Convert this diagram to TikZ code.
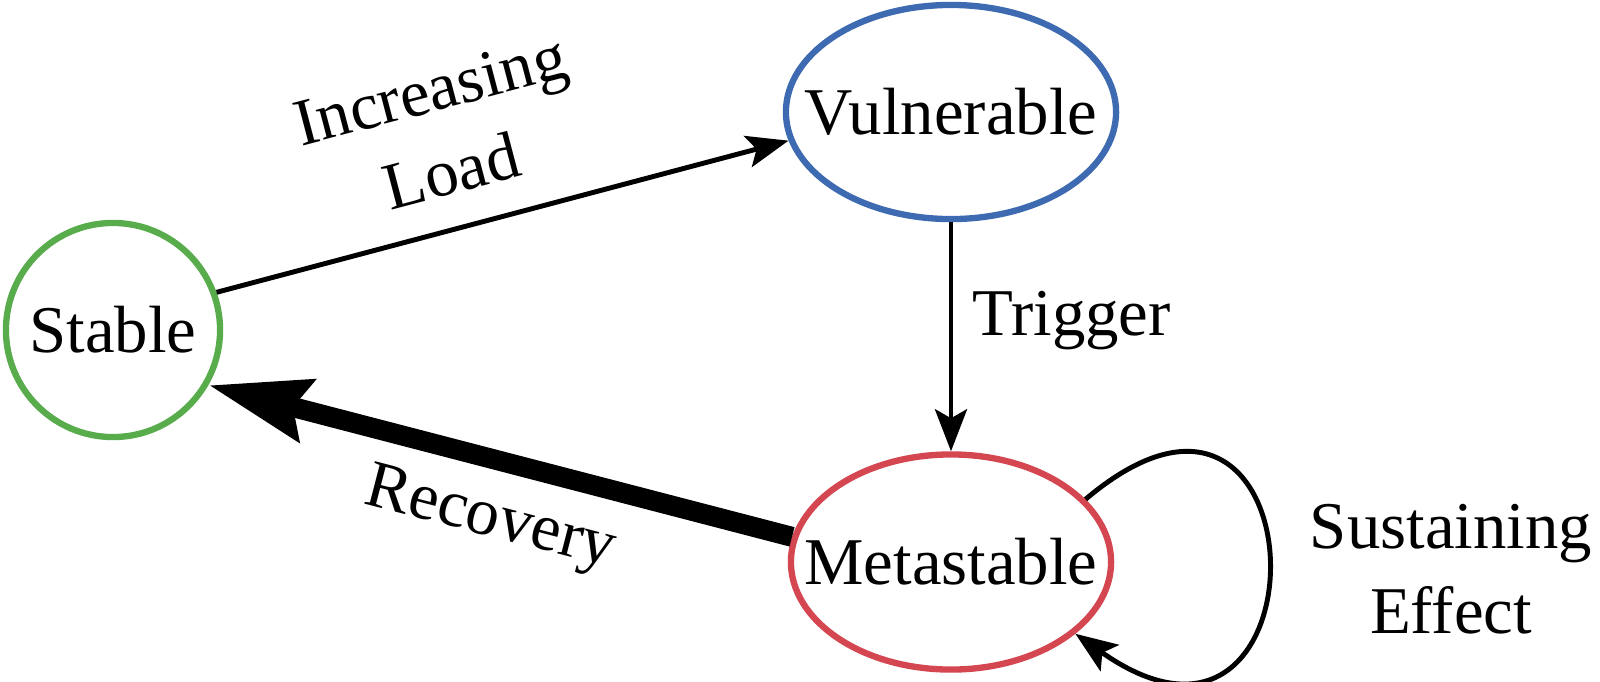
\documentclass[tikz,border=0pt]{standalone}
\usepackage{fontspec}
\setmainfont{Liberation Serif}
\usetikzlibrary{arrows.meta,shapes.geometric}
\definecolor{stgreen}{RGB}{88,172,76}
\definecolor{vublue}{RGB}{61,106,177}
\definecolor{mered}{RGB}{212,70,80}
\begin{document}
\begin{tikzpicture}[x=0.01cm,y=-0.01cm,
  every node/.style={font=\fontsize{19}{24}\selectfont},
  state/.style={draw, line width=1.8pt, inner sep=0pt},
  ring/.style={state, circle, minimum size=2.14cm},
  oval/.style={state, ellipse},
  thin arrow/.style={line width=1.4pt, -{Stealth[length=0.42cm,width=0.32cm,inset=0.09cm]}},
  thick arrow/.style={line width=0.2cm, -{Stealth[length=1cm,width=0.62cm,inset=0.13cm]}},
  lbl/.style={inner sep=0pt, align=center}]
\useasboundingbox (0,0) rectangle (1600,681);

% states
\node[ring, draw=stgreen] (st) at (113,330) {Stable};
\node[oval, draw=vublue, minimum width=3.30cm, minimum height=2.14cm,
      label={center:Vulnerable}] (vu) at (951,112) {};
\node[oval, draw=mered, minimum width=3.20cm, minimum height=2.15cm,
      label={center:Metastable}] (me) at (951,562) {};

% transitions
\draw[thin arrow] (st.20) -- (vu.190);
\draw[thin arrow] (vu.south) -- (me.north);
\draw[thick arrow] (me.171) -- (st.330);
\coordinate (loopA) at (1326,296);
\coordinate (loopB) at (1333,815);
\draw[thin arrow] (me.25) .. controls (loopA) and (loopB) .. (me.-30);

% transition labels
\node[lbl, rotate=14.7] (incl) at (441,131) {Increasing\\Load};
\node[lbl, anchor=base west] (trl) at (972,335) {Trigger};
\node[lbl, rotate=-14.5] (recl) at (490,521) {Recovery};
\node[lbl] (susl) at (1451,569) {Sustaining\\Effect};
\end{tikzpicture}
\end{document}
